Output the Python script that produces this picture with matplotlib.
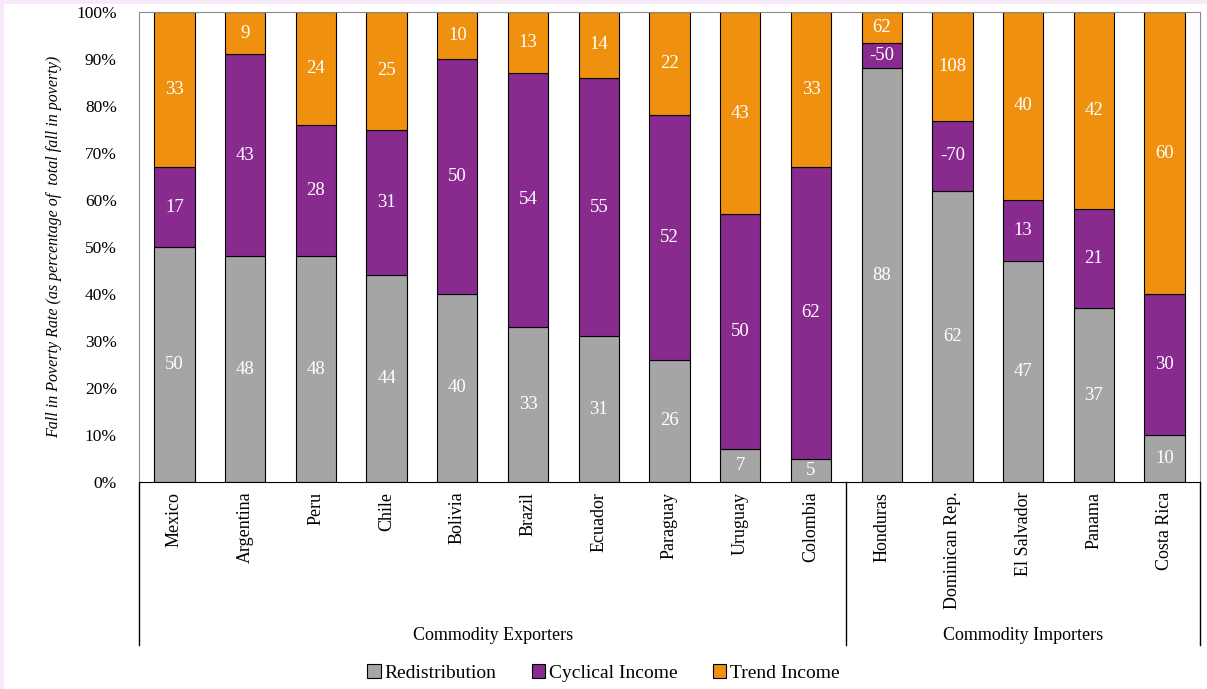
import numpy as np
import matplotlib
matplotlib.use('Agg')
import matplotlib.pyplot as plt
from matplotlib.patches import Rectangle, Patch

plt.rcParams['font.family'] = ['Liberation Serif', 'DejaVu Serif']

countries = ['Mexico', 'Argentina', 'Peru', 'Chile', 'Bolivia', 'Brazil', 'Ecuador',
             'Paraguay', 'Uruguay', 'Colombia', 'Honduras', 'Dominican Rep.',
             'El Salvador', 'Panama', 'Costa Rica']

# segment heights (share of bar, %)
redistribution = [50, 48, 48, 44, 40, 33, 31, 26, 7, 5, 88, 62, 47, 37, 10]
cyclical = [17, 43, 28, 31, 50, 54, 55, 52, 50, 62, 5.4, 14.8, 13, 21, 30]
trend = [33, 9, 24, 25, 10, 13, 14, 22, 43, 33, 6.6, 23.2, 40, 42, 60]

# values printed on the segments
redis_lbl = [50, 48, 48, 44, 40, 33, 31, 26, 7, 5, 88, 62, 47, 37, 10]
cyc_lbl = [17, 43, 28, 31, 50, 54, 55, 52, 50, 62, -50, -70, 13, 21, 30]
trend_lbl = [33, 9, 24, 25, 10, 13, 14, 22, 43, 33, 62, 108, 40, 42, 60]

groups = ['Commodity Exporters', 'Commodity Importers']
group_sizes = [10, 5]

c_gray = '#a5a5a5'
c_purple = '#892a8f'
c_orange = '#f0900f'

fig = plt.figure(figsize=(12.07, 6.89), dpi=100)
fig.patch.set_facecolor('#f6e9f8')
bg = Rectangle((4 / 1207, 0), 1, 1 - 4 / 689, transform=fig.transFigure,
               facecolor='white', edgecolor='none', zorder=-10)
fig.patches.append(bg)
ax = fig.add_axes([139 / 1207, 1 - 482 / 689, 1061 / 1207, 470 / 689])
ax.set_zorder(1)
ax.patch.set_alpha(0)

x = np.arange(len(countries))
w = 0.57
r = np.array(redistribution)
c = np.array(cyclical)
t = np.array(trend)
ax.bar(x, r, w, color=c_gray, edgecolor='black', linewidth=0.8, label='Redistribution')
ax.bar(x, c, w, bottom=r, color=c_purple, edgecolor='black', linewidth=0.8, label='Cyclical Income')
ax.bar(x, t, w, bottom=r + c, color=c_orange, edgecolor='black', linewidth=0.8, label='Trend Income')

for i in range(len(countries)):
    ax.text(x[i], r[i] / 2, str(redis_lbl[i]), ha='center', va='center', color='white', fontsize=13.5)
    ax.text(x[i], r[i] + c[i] / 2, str(cyc_lbl[i]), ha='center', va='center', color='white', fontsize=13.5)
    ax.text(x[i], r[i] + c[i] + t[i] / 2, str(trend_lbl[i]), ha='center', va='center', color='white', fontsize=13.5)

ax.set_xlim(-0.5, len(countries) - 0.5)
ax.set_ylim(0, 100)
ax.set_yticks(np.arange(0, 101, 10))
ax.set_yticklabels([f'{v}%' for v in range(0, 101, 10)], fontsize=12.5)
ax.tick_params(axis='y', length=0, pad=16)
ax.set_xticks(x)
ax.set_xticklabels(countries, rotation=90, fontsize=13, va='top')
ax.tick_params(axis='x', length=0, pad=7)

for s in ['top', 'right', 'left']:
    ax.spines[s].set_color('#8c8c8c')
ax.spines['bottom'].set_color('black')

ax.set_ylabel('Fall in Poverty Rate (as percentage of  total fall in poverty)',
              fontsize=11.5, style='italic', labelpad=10)

# group separators and labels below the axis
tr = ax.get_xaxis_transform()
start = -0.5
edges = [start]
for n in group_sizes:
    edges.append(edges[-1] + n)
for e in edges:
    ax.plot([e, e], [0, -0.347], color='black', lw=1, transform=tr, clip_on=False)
for g, a, b in zip(groups, edges[:-1], edges[1:]):
    ax.text((a + b) / 2, -0.326, g, ha='center', va='center', fontsize=13, transform=tr)

handles = [Patch(facecolor=c_gray, edgecolor='black', lw=0.8),
           Patch(facecolor=c_purple, edgecolor='black', lw=0.8),
           Patch(facecolor=c_orange, edgecolor='black', lw=0.8)]
fig.legend(handles, ['Redistribution', 'Cyclical Income', 'Trend Income'],
           loc='center', bbox_to_anchor=(0.5, 1 - 673 / 689), ncol=3, frameon=False,
           fontsize=14, handlelength=0.7, handleheight=0.7, handletextpad=0.2,
           columnspacing=1.8)

fig.savefig('out.png', dpi=100, facecolor=fig.get_facecolor())
